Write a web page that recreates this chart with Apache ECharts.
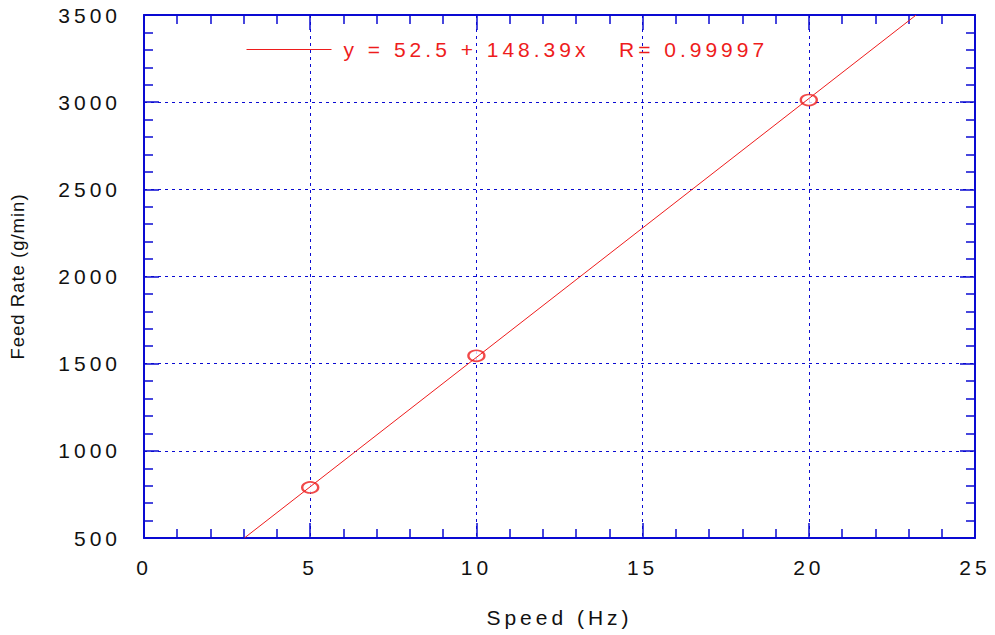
<!DOCTYPE html>
<html>
<head>
<meta charset="utf-8">
<script src="https://cdn.jsdelivr.net/npm/echarts@6/dist/echarts.min.js"></script>
<style>
  html, body { margin: 0; padding: 0; background: #fff; }
  #chart { width: 995px; height: 635px; }
  #chart text { letter-spacing: 4px; white-space: pre; }
  /* the rotated y title is set tighter */
  #chart text[transform*=",-1,1,"] { letter-spacing: 1px; }
</style>
</head>
<body>
<div id="chart"></div>
<script>
// measured points
var speedHz = [5, 10, 20];
var feedRate = [790, 1545, 3012];
// fit line ends (where it leaves the frame)
var fitX = [3.02, 23.23];
var fitY = [500, 3500];
var fitLabel = 'y = 52.5 + 148.39x   R= 0.99997';
var xRange = [0, 25, 5];
var yRange = [500, 3500, 500];

var blue = '#0a0ad2';
var red = '#ee1c1c';
var font = '"Liberation Sans", Arial, sans-serif';

function pairs(xs, ys) {
	var out = [];
	for (var i = 0; i < xs.length; i++) out.push([xs[i], ys[i]]);
	return out;
}

function frameAxis(pos, range, main) {
	return {
		type: 'value',
		position: pos,
		min: range[0], max: range[1], interval: range[2],
		axisLine: { show: true, onZero: false, lineStyle: { color: blue, width: 2 } },
		axisTick: { show: true, inside: true, length: 15, lineStyle: { color: blue, width: 1.5 } },
		minorTick: { show: true, splitNumber: 5, length: 9, lineStyle: { color: blue, width: 1.5 } },
		splitLine: { show: main, lineStyle: { color: blue, type: [3, 4], width: 1 } },
		axisLabel: {
			show: main, color: '#111', fontSize: 21, fontFamily: font,
			formatter: function(v) { return String(v); }
		},
		nameTextStyle: { color: '#111', fontFamily: font }
	};
}

var chartDom = document.getElementById('chart');
var myChart = echarts.init(chartDom, null, { renderer: 'svg' });

var xBottom = frameAxis('bottom', xRange, true);
xBottom.name = 'Speed (Hz)';
xBottom.nameLocation = 'middle';
xBottom.nameGap = 69;
xBottom.nameTextStyle.fontSize = 21;
xBottom.axisLabel.margin = 19;

var yLeft = frameAxis('left', yRange, true);
yLeft.name = 'Feed Rate (g/min)';
yLeft.nameLocation = 'middle';
yLeft.nameGap = 117;
yLeft.nameTextStyle.fontSize = 18.5;
yLeft.axisLabel.margin = 23;

var option = {
	animation: false,
	backgroundColor: '#fff',
	grid: { left: 143, right: 20, top: 15, bottom: 97 },
	legend: {
		left: 241, top: 34,
		itemWidth: 85, itemHeight: 14,
		data: [fitLabel],
		itemStyle: { opacity: 0 },
		lineStyle: { color: red, width: 1 },
		textStyle: { color: red, fontSize: 21, fontFamily: font, padding: [0, 0, 0, 7] }
	},
	xAxis: [xBottom, frameAxis('top', xRange, false)],
	yAxis: [yLeft, frameAxis('right', yRange, false)],
	series: [{
		name: fitLabel,
		type: 'line',
		symbol: 'none',
		data: pairs(fitX, fitY),
		lineStyle: { color: red, width: 1 },
		itemStyle: { color: red }
	}, {
		name: 'data',
		type: 'scatter',
		symbol: 'emptyCircle',
		symbolSize: [16, 11],
		data: pairs(speedHz, feedRate),
		itemStyle: { color: red, borderColor: red, borderWidth: 1 }
	}]
};

option && myChart.setOption(option);
</script>
</body>
</html>
